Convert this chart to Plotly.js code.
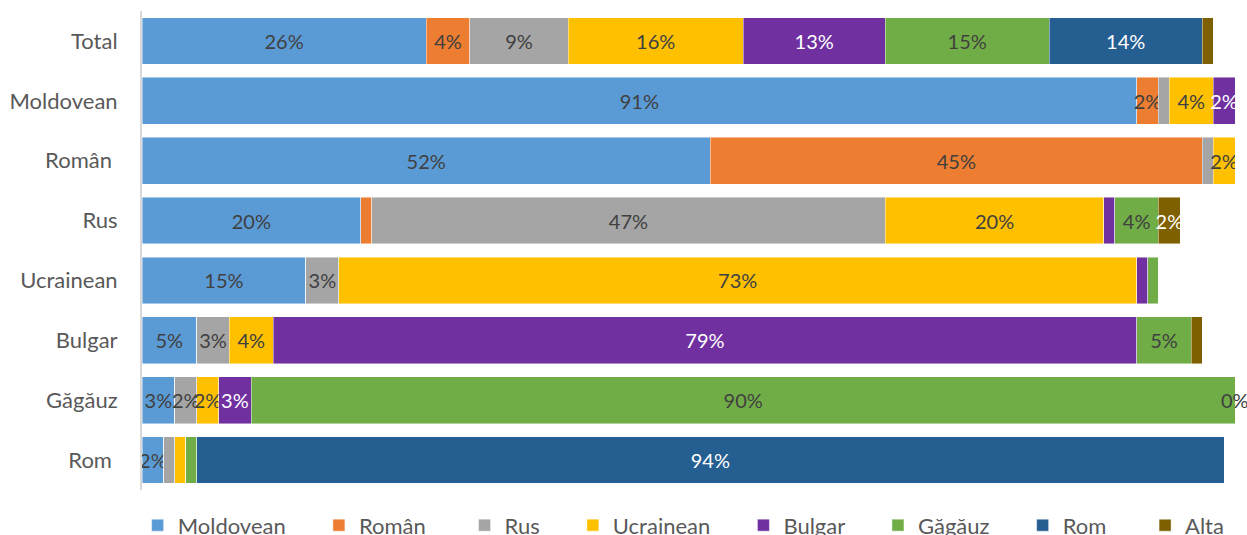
<!DOCTYPE html>
<html>
<head>
<meta charset="utf-8">
<script src="https://cdn.plot.ly/plotly-3.0.1.min.js"></script>
<style>
  html, body { margin: 0; padding: 0; background: #ffffff; }
  #chart { width: 1247px; height: 535px; }
</style>
</head>
<body>
<div id="chart"></div>
<script>
// Categories (rows, top to bottom)
const categories = ["Total", "Moldovean", "Român", "Rus", "Ucrainean", "Bulgar", "Găgăuz", "Rom"];
const tickLabels = ["Total", "Moldovean", "Român\u00a0", "Rus", "Ucrainean", "Bulgar", "Găgăuz", "Rom\u00a0"];

// Series names (legend)
const seriesNames = ["Moldovean", "Român\u00a0", "Rus", "Ucrainean", "Bulgar", "Găgăuz", "Rom\u00a0", "Alta"];

// Values (%) per series, in category order
const moldovean = [26, 91, 52, 20, 15, 5, 3, 2];
const roman     = [4, 2, 45, 1, 0, 0, 0, 0];
const rus       = [9, 1, 1, 47, 3, 3, 2, 1];
const ucrainean = [16, 4, 2, 20, 73, 4, 2, 1];
const bulgar    = [13, 2, 0, 1, 1, 79, 3, 0];
const gagauz    = [15, 0, 0, 4, 1, 5, 90, 1];
const rom       = [14, 0, 0, 0, 0, 0, 0, 94];
const alta      = [1, 0, 0, 2, 0, 1, 0, 0];

const seriesValues = [moldovean, roman, rus, ucrainean, bulgar, gagauz, rom, alta];
const seriesColors = ["#5B9BD5", "#ED7D31", "#A5A5A5", "#FFC000", "#7030A0", "#70AD47", "#255E91", "#7F6000"];
const labelColors  = ["#404040", "#404040", "#404040", "#404040", "#ffffff", "#404040", "#ffffff", "#ffffff"];

const FONT = "Lato, 'Open Sans', sans-serif";
const PAD = "\u00a0".repeat(5);

const traces = seriesValues.map((vals, i) => ({
  type: "bar",
  orientation: "h",
  name: seriesNames[i] + (i < seriesNames.length - 1 ? PAD : ""),
  y: categories,
  x: vals,
  marker: { color: seriesColors[i], line: { color: "rgba(255,255,255,0.6)", width: 0.75 } },
  text: vals.map(v => v >= 1.5 ? Math.round(v) + "%" : ""),
  textposition: "inside",
  insidetextanchor: "middle",
  textangle: 0,
  textfont: { family: FONT, size: 20, color: labelColors[i] },
  hoverinfo: "name+x",
}));

// Label for the zero-valued last segment of the Găgăuz row, placed at the row's end
const gIdx = categories.indexOf("Găgăuz");
const gTotal = seriesValues.reduce((s, arr) => s + arr[gIdx], 0);

const layout = {
  width: 1247,
  height: 535,
  margin: { l: 142, r: 12, t: 11, b: 45, autoexpand: false },
  paper_bgcolor: "#ffffff",
  plot_bgcolor: "#ffffff",
  barmode: "stack",
  bargap: 0.22,
  showlegend: true,
  uniformtext: { mode: "show", minsize: 20 },
  font: { family: FONT, size: 22, color: "#595959" },
  xaxis: {
    range: [0, 100],
    showgrid: false,
    zeroline: false,
    showline: false,
    showticklabels: false,
    ticks: "",
    fixedrange: true,
  },
  yaxis: {
    type: "category",
    autorange: "reversed",
    tickvals: categories,
    ticktext: tickLabels,
    showline: true,
    linecolor: "#d9d9d9",
    linewidth: 2,
    showgrid: false,
    zeroline: false,
    ticks: "outside",
    ticklen: 18,
    tickcolor: "rgba(0,0,0,0)",
    tickfont: { family: FONT, size: 22, color: "#595959" },
    fixedrange: true,
  },
  legend: {
    orientation: "h",
    x: -0.004,
    xanchor: "left",
    y: -0.03,
    yanchor: "top",
    font: { family: FONT, size: 22, color: "#595959" },
    traceorder: "normal",
    bgcolor: "rgba(0,0,0,0)",
  },
  annotations: [{
    x: gTotal,
    y: "Găgăuz",
    xref: "x",
    yref: "y",
    text: "0%",
    showarrow: false,
    xanchor: "center",
    yanchor: "middle",
    font: { family: FONT, size: 20, color: "#404040" },
  }],
};

Plotly.newPlot("chart", traces, layout, { displayModeBar: false });
</script>
</body>
</html>
